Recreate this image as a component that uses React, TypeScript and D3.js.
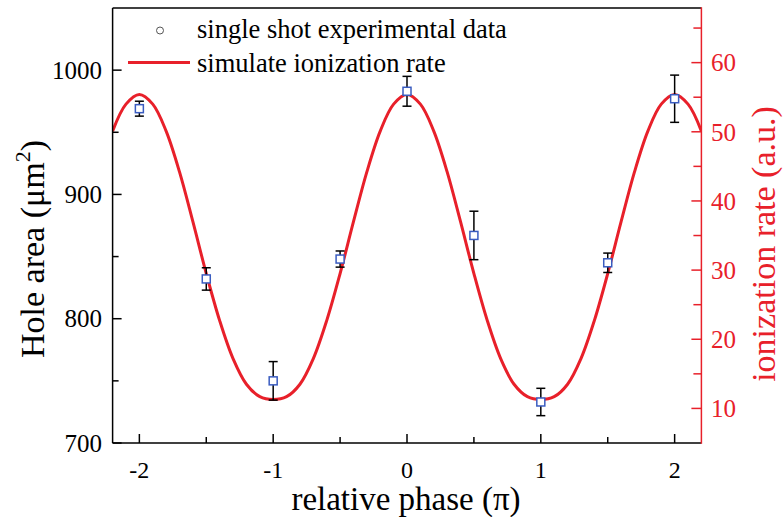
import React from 'react';
import * as d3 from 'd3';

// Experimental data (left axis)
const phase = [-2, -1.5, -1, -0.5, 0, 0.5, 1, 1.5, 2];
const holeArea = [969, 832, 750, 848, 983, 867, 733, 845, 977];
const holeErr = [6, 9, 15.5, 6.5, 12, 19.5, 11, 7.8, 19];

// Simulated ionization rate (right axis)
const simPhase = [
  -2.2, -2.1, -2.0, -1.9, -1.8, -1.7, -1.6, -1.5, -1.4, -1.3, -1.2, -1.1,
  -1.0, -0.9, -0.8, -0.7, -0.6, -0.5, -0.4, -0.3, -0.2, -0.1,
  0.0, 0.1, 0.2, 0.3, 0.4, 0.5, 0.6, 0.7, 0.8, 0.9,
  1.0, 1.1, 1.2, 1.3, 1.4, 1.5, 1.6, 1.7, 1.8, 1.9, 2.0, 2.1, 2.2,
];
const simRate = [
  50.1, 54.0, 55.4, 54.0, 50.1, 44.2, 37.0, 29.5, 22.7, 17.2, 13.5, 11.7,
  11.3, 11.7, 13.5, 17.2, 22.7, 29.5, 37.0, 44.2, 50.1, 54.0,
  55.4, 54.0, 50.1, 44.2, 37.0, 29.5, 22.7, 17.2, 13.5, 11.7,
  11.3, 11.7, 13.5, 17.2, 22.7, 29.5, 37.0, 44.2, 50.1, 54.0, 55.4, 54.0, 50.1,
];

const xTicks = [-2, -1, 0, 1, 2];
const xMinor = [-1.5, -0.5, 0.5, 1.5];
const leftTicks = [700, 800, 900, 1000];
const leftMinor = [750, 850, 950];
const rightTicks = [10, 20, 30, 40, 50, 60];
const rightMinor = [15, 25, 35, 45, 55, 65];

const legendLabels = ['single shot experimental data', 'simulate ionization rate'];

const RED = '#e8202a';
const BLUE = '#3a5cc0';
const FONT = "'Liberation Serif', 'Times New Roman', serif";

export default function App() {
  const L = 112.6, R = 701.4, T = 8, B = 443;
  const x = d3.scaleLinear().domain([-2.2, 2.2]).range([L, R]);
  const yL = d3.scaleLinear().domain([700, 1050]).range([B, T]);
  const yR = d3.scaleLinear().domain([5, 67.9]).range([B, T]);

  const line = d3
    .line<[number, number]>()
    .x((d) => x(d[0]))
    .y((d) => yR(d[1]))
    .curve(d3.curveCatmullRom.alpha(0.5));
  const pathD = line(simPhase.map((p, i) => [p, simRate[i]] as [number, number])) || '';

  const sq = 8;
  const cap = 4.5;

  return (
    <svg
      width={783}
      height={517}
      style={{ position: 'absolute', left: 0, top: 0, background: '#fff' }}
      fontFamily={FONT}
    >
      <defs>
        <clipPath id="plot">
          <rect x={L} y={T} width={R - L} height={B - T} />
        </clipPath>
      </defs>

      {/* curve */}
      <path d={pathD} fill="none" stroke={RED} strokeWidth={3} clipPath="url(#plot)" />

      {/* data points */}
      {phase.map((p, i) => {
        const cx = x(p);
        const cy = yL(holeArea[i]);
        const top = yL(holeArea[i] + holeErr[i]);
        const bot = yL(holeArea[i] - holeErr[i]);
        return (
          <g key={i}>
            <line x1={cx} x2={cx} y1={top} y2={bot} stroke="#000" strokeWidth={1.5} />
            <line x1={cx - cap} x2={cx + cap} y1={top} y2={top} stroke="#000" strokeWidth={1.5} />
            <line x1={cx - cap} x2={cx + cap} y1={bot} y2={bot} stroke="#000" strokeWidth={1.5} />
            <rect
              x={cx - sq / 2}
              y={cy - sq / 2}
              width={sq}
              height={sq}
              fill="#fff"
              stroke={BLUE}
              strokeWidth={1.5}
            />
          </g>
        );
      })}

      {/* frame */}
      <line x1={L} x2={R} y1={T} y2={T} stroke="#000" strokeWidth={1.5} />
      <line x1={L} x2={R} y1={B} y2={B} stroke="#000" strokeWidth={1.5} />
      <line x1={L} x2={L} y1={T} y2={B} stroke="#000" strokeWidth={1.5} />
      <line x1={R} x2={R} y1={T - 0.75} y2={B + 0.75} stroke={RED} strokeWidth={1.5} />

      {/* x axis ticks */}
      {xTicks.map((t) => (
        <g key={'xt' + t}>
          <line x1={x(t)} x2={x(t)} y1={B} y2={B - 9} stroke="#000" strokeWidth={1.5} />
          <text x={x(t)} y={478} fontSize={24} textAnchor="middle" fill="#000">
            {t}
          </text>
        </g>
      ))}
      {xMinor.map((t) => (
        <line key={'xm' + t} x1={x(t)} x2={x(t)} y1={B} y2={B - 6} stroke="#000" strokeWidth={1.5} />
      ))}
      <text x={406} y={510} fontSize={33} textAnchor="middle" fill="#000">
        relative phase (π)
      </text>

      {/* left axis */}
      {leftTicks.map((t) => (
        <g key={'lt' + t}>
          <line x1={L} x2={L + 9} y1={yL(t)} y2={yL(t)} stroke="#000" strokeWidth={1.5} />
          <text x={102} y={yL(t)} dy="0.35em" fontSize={25} textAnchor="end" fill="#000">
            {t}
          </text>
        </g>
      ))}
      {leftMinor.map((t) => (
        <line key={'lm' + t} x1={L} x2={L + 6} y1={yL(t)} y2={yL(t)} stroke="#000" strokeWidth={1.5} />
      ))}
      <text transform="translate(44,249) rotate(-90)" fontSize={34} textAnchor="middle" fill="#000">
        Hole area (μm
        <tspan fontSize={22} dy={-14}>2</tspan>
        <tspan dy={14}>)</tspan>
      </text>

      {/* right axis */}
      {rightTicks.map((t) => (
        <g key={'rt' + t}>
          <line x1={R} x2={R - 10} y1={yR(t)} y2={yR(t)} stroke={RED} strokeWidth={1.5} />
          <text x={711} y={yR(t)} dy="0.35em" fontSize={25} textAnchor="start" fill={RED}>
            {t}
          </text>
        </g>
      ))}
      {rightMinor.map((t) => (
        <line key={'rm' + t} x1={R} x2={R - 8} y1={yR(t)} y2={yR(t)} stroke={RED} strokeWidth={1.5} />
      ))}
      <text transform="translate(775,244) rotate(-90)" fontSize={34} textAnchor="middle" fill={RED}>
        ionization rate (a.u.)
      </text>

      {/* legend */}
      <circle cx={160} cy={30.5} r={3.5} fill="#fff" stroke="#555" strokeWidth={1} />
      <text x={197} y={38} fontSize={26.5} fill="#000">
        {legendLabels[0]}
      </text>
      <line x1={128} x2={190} y1={62.5} y2={62.5} stroke={RED} strokeWidth={3} />
      <text x={197} y={72} fontSize={26.5} fill="#000">
        {legendLabels[1]}
      </text>
    </svg>
  );
}
